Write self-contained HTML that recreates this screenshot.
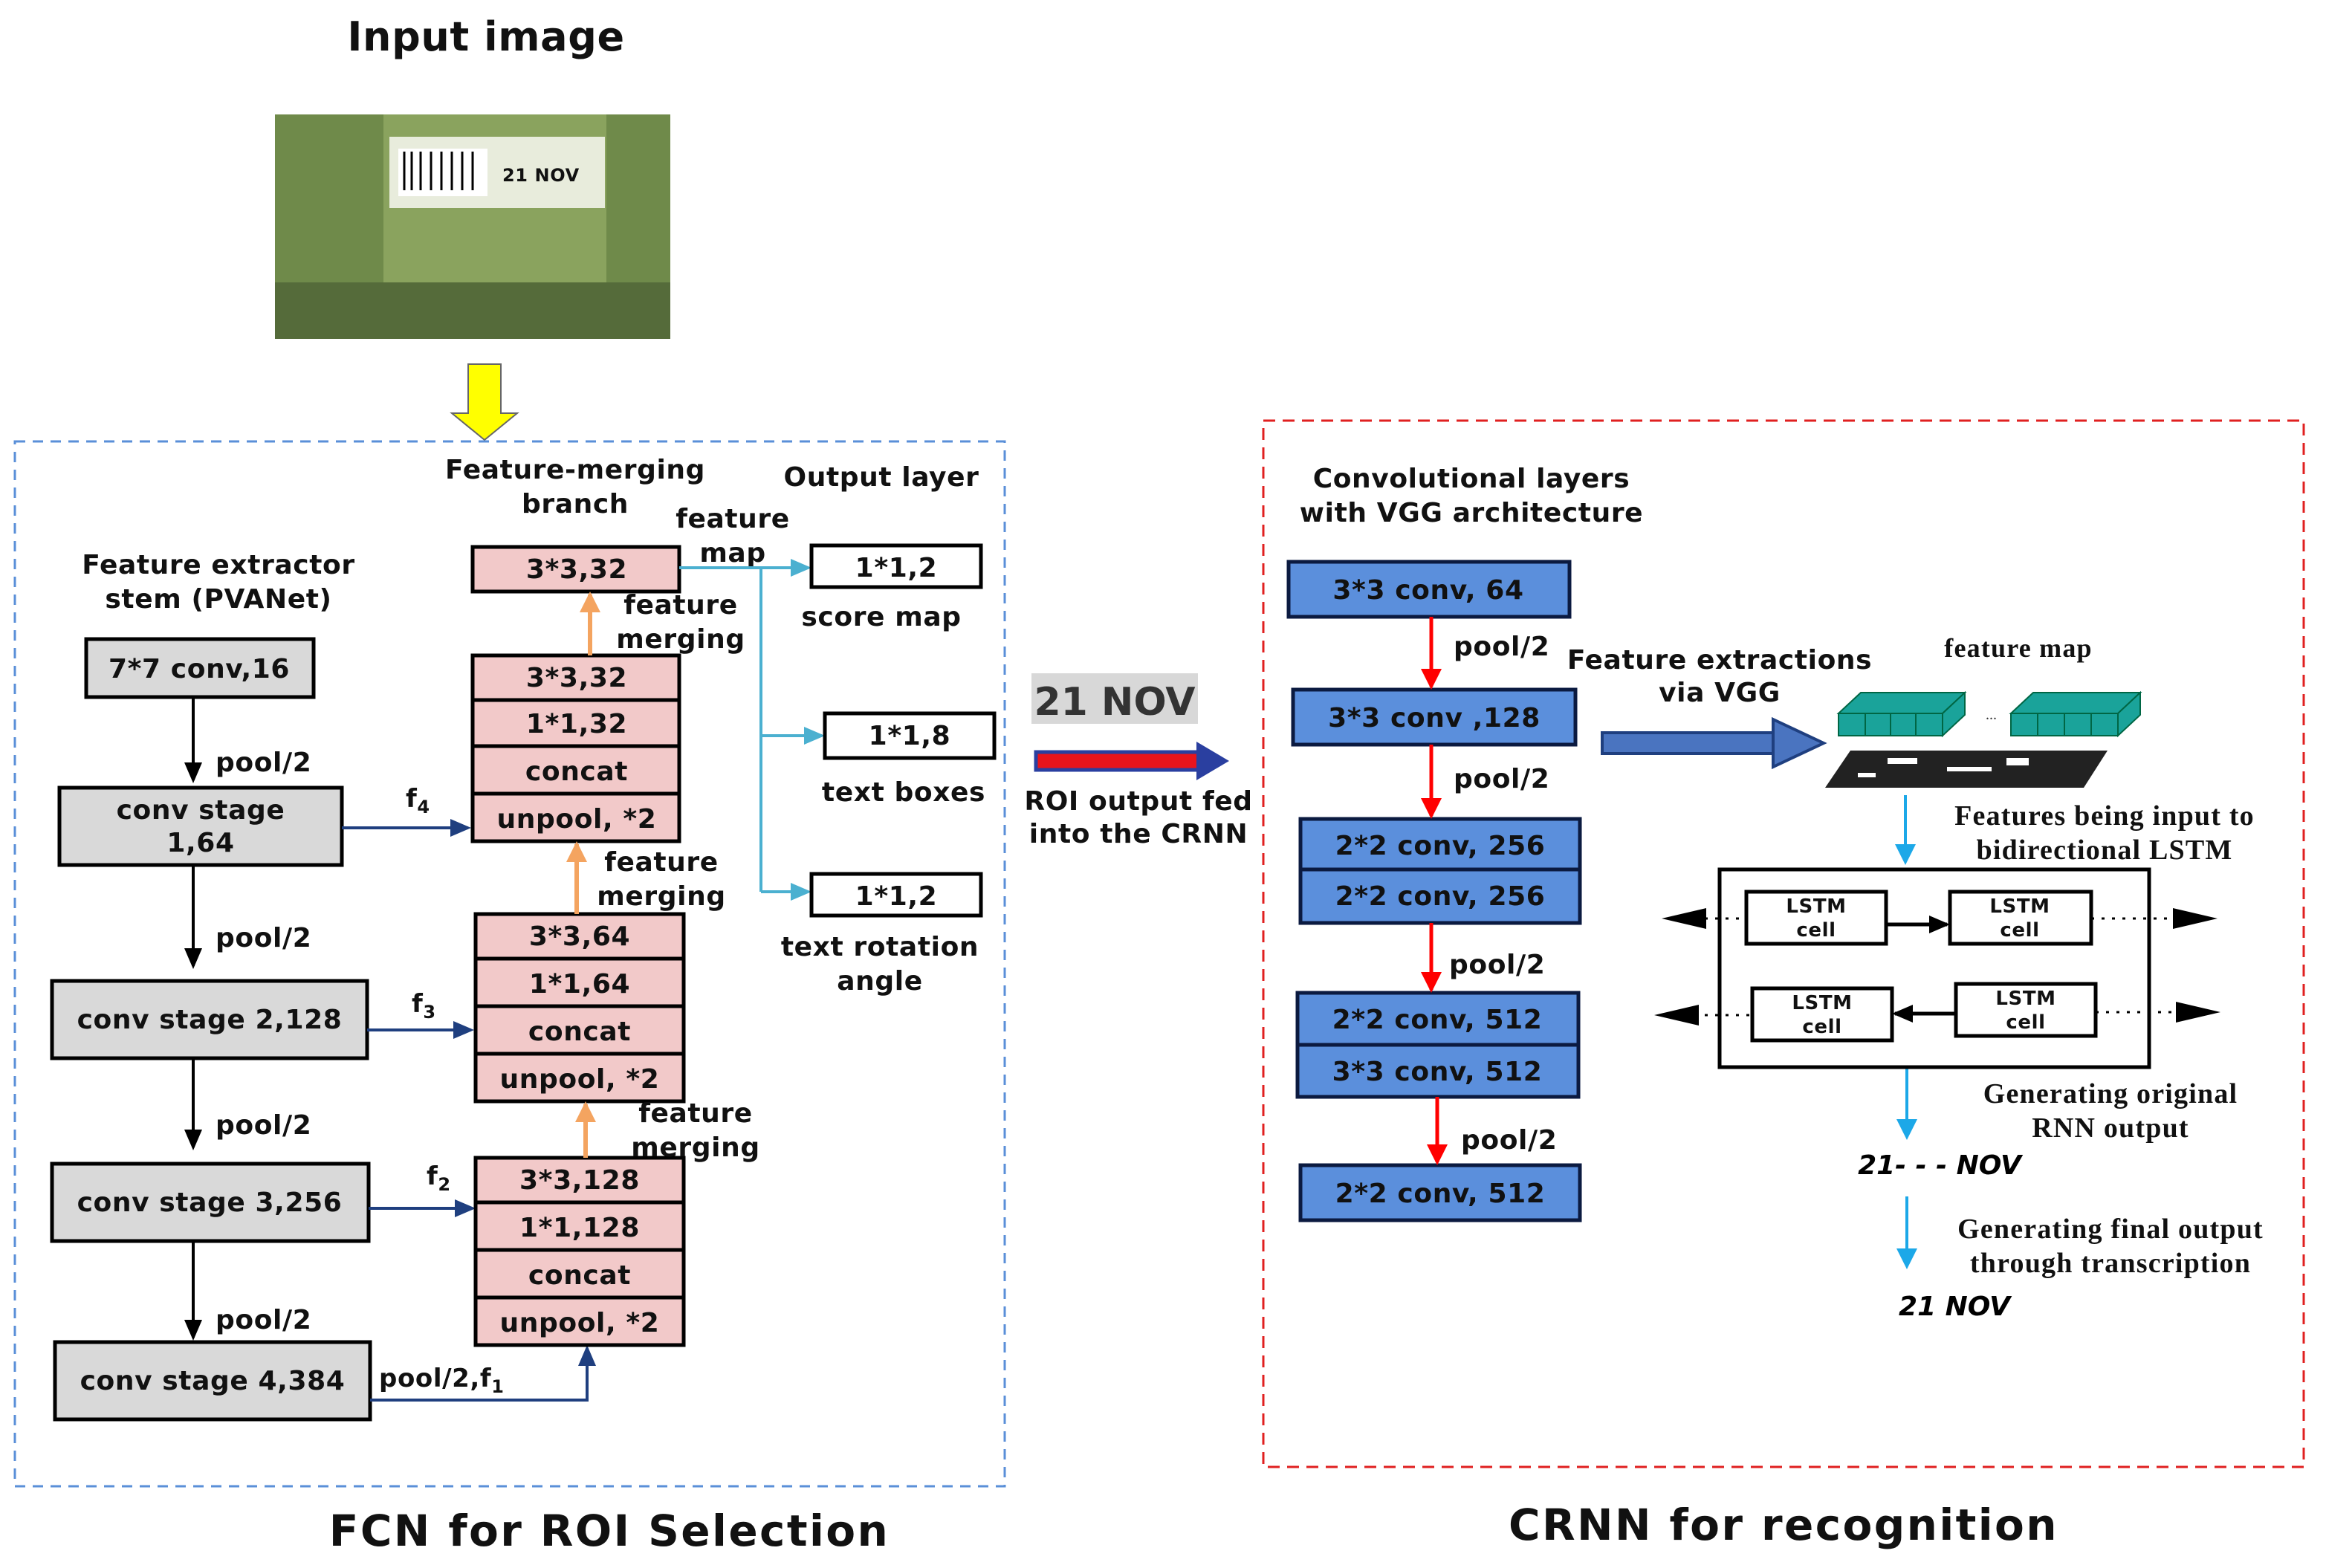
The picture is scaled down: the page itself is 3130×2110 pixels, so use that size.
<!DOCTYPE html>
<html><head><meta charset="utf-8"><style>
html,body{margin:0;padding:0;background:#fff;}
svg{display:block;}
.b{font-family:"DejaVu Sans","Liberation Sans",sans-serif;font-weight:bold;fill:#111;letter-spacing:0.3px;}
.s{font-family:"Liberation Serif","DejaVu Serif",serif;font-weight:bold;fill:#111;letter-spacing:0.6px;}
</style></head><body>
<svg width="3130" height="2110" viewBox="0 0 1565 1055" xmlns="http://www.w3.org/2000/svg">
<defs>
<marker id="ak" markerWidth="14" markerHeight="12" refX="12" refY="6" orient="auto" markerUnits="userSpaceOnUse"><path d="M0,0 L14,6 L0,12 z" fill="#000"/></marker>
<marker id="an" markerWidth="14" markerHeight="12" refX="12" refY="6" orient="auto" markerUnits="userSpaceOnUse"><path d="M0,0 L14,6 L0,12 z" fill="#1f3f7f"/></marker>
<marker id="ao" markerWidth="14" markerHeight="14" refX="12" refY="7" orient="auto" markerUnits="userSpaceOnUse"><path d="M0,0 L14,7 L0,14 z" fill="#f4a460"/></marker>
<marker id="ac" markerWidth="14" markerHeight="12" refX="12" refY="6" orient="auto" markerUnits="userSpaceOnUse"><path d="M0,0 L14,6 L0,12 z" fill="#4bb0d0"/></marker>
<marker id="ar" markerWidth="14" markerHeight="14" refX="12" refY="7" orient="auto" markerUnits="userSpaceOnUse"><path d="M0,0 L14,7 L0,14 z" fill="#f00"/></marker>
<marker id="ab" markerWidth="14" markerHeight="14" refX="12" refY="7" orient="auto" markerUnits="userSpaceOnUse"><path d="M0,0 L14,7 L0,14 z" fill="#1ca8e8"/></marker>
</defs>

<text class="b" x="327" y="34" font-size="27" text-anchor="middle">Input image</text>
<rect x="185" y="77" width="266" height="151" fill="#6f8a4a"/>
<rect x="258" y="77" width="150" height="120" fill="#8aa35e"/>
<rect x="262" y="92" width="145" height="48" fill="#e8ecdc"/>
<rect x="268" y="100" width="60" height="32" fill="#fff"/>
<g stroke="#000" stroke-width="1.5"><line x1="272" y1="102" x2="272" y2="128"/><line x1="277" y1="102" x2="277" y2="128"/><line x1="283" y1="102" x2="283" y2="128"/><line x1="290" y1="102" x2="290" y2="128"/><line x1="297" y1="102" x2="297" y2="128"/><line x1="304" y1="102" x2="304" y2="128"/><line x1="311" y1="102" x2="311" y2="128"/><line x1="318" y1="102" x2="318" y2="128"/></g>
<text class="b" x="338" y="122" font-size="12">21 NOV</text>
<rect x="185" y="190" width="266" height="38" fill="#556b3a"/>
<path d="M315,245 L337,245 L337,278 L348,278 L326,296 L304,278 L315,278 z" fill="#ffff00" stroke="#666" stroke-width="1"/>

<rect x="10" y="297" width="666" height="703" fill="none" stroke="#5a8fd8" stroke-width="1.5" stroke-dasharray="7,5"/>
<rect x="850" y="283" width="700" height="704" fill="none" stroke="#e02020" stroke-width="1.5" stroke-dasharray="8,5"/>
<text class="b" x="410" y="1040" font-size="29" text-anchor="middle" style="letter-spacing:1.2px">FCN for ROI Selection</text>
<text class="b" x="1200" y="1036" font-size="29" text-anchor="middle" style="letter-spacing:1.2px">CRNN for recognition</text>

<!-- left stem -->
<text class="b" x="147" y="386" font-size="18" text-anchor="middle">Feature extractor</text>
<text class="b" x="147" y="409" font-size="18" text-anchor="middle">stem (PVANet)</text>
<g fill="#d9d9d9" stroke="#000" stroke-width="2.5">
<rect x="58" y="430" width="153" height="39"/>
<rect x="40" y="530" width="190" height="52"/>
<rect x="35" y="660" width="212" height="52"/>
<rect x="35" y="783" width="213" height="52"/>
<rect x="37" y="903" width="212" height="52"/>
</g>
<text class="b" x="134" y="456" font-size="18" text-anchor="middle">7*7 conv,16</text>
<text class="b" x="135" y="551" font-size="18" text-anchor="middle">conv stage</text>
<text class="b" x="135" y="573" font-size="18" text-anchor="middle">1,64</text>
<text class="b" x="141" y="692" font-size="18" text-anchor="middle">conv stage 2,128</text>
<text class="b" x="141" y="815" font-size="18" text-anchor="middle">conv stage 3,256</text>
<text class="b" x="143" y="935" font-size="18" text-anchor="middle">conv stage 4,384</text>
<g stroke="#000" stroke-width="2" marker-end="url(#ak)">
<line x1="130" y1="469" x2="130" y2="525"/>
<line x1="130" y1="582" x2="130" y2="650"/>
<line x1="130" y1="712" x2="130" y2="772"/>
<line x1="130" y1="835" x2="130" y2="900"/>
</g>
<g class="b" font-size="18"><text x="145" y="519">pool/2</text><text x="145" y="637">pool/2</text><text x="145" y="763">pool/2</text><text x="145" y="894">pool/2</text></g>

<!-- f arrows -->
<g stroke="#1f3f7f" stroke-width="2" fill="none" marker-end="url(#an)">
<line x1="230" y1="557" x2="315" y2="557"/>
<line x1="247" y1="693" x2="317" y2="693"/>
<line x1="248" y1="813" x2="318" y2="813"/>
<polyline points="249,942 395,942 395,907"/>
</g>
<text class="b" x="273" y="543" font-size="17">f<tspan font-size="12" dy="4">4</tspan></text>
<text class="b" x="277" y="681" font-size="17">f<tspan font-size="12" dy="4">3</tspan></text>
<text class="b" x="287" y="797" font-size="17">f<tspan font-size="12" dy="4">2</tspan></text>
<text class="b" x="255" y="933" font-size="17">pool/2,f<tspan font-size="12" dy="4">1</tspan></text>

<!-- pink boxes -->
<g fill="#f2c9c9" stroke="#000" stroke-width="2.5">
<rect x="318" y="368" width="139" height="30"/>
<rect x="318" y="441" width="139" height="30"/><rect x="318" y="471" width="139" height="31"/><rect x="318" y="502" width="139" height="32"/><rect x="318" y="534" width="139" height="32"/>
<rect x="320" y="615" width="140" height="30"/><rect x="320" y="645" width="140" height="32"/><rect x="320" y="677" width="140" height="32"/><rect x="320" y="709" width="140" height="32"/>
<rect x="320" y="779" width="140" height="30"/><rect x="320" y="809" width="140" height="32"/><rect x="320" y="841" width="140" height="32"/><rect x="320" y="873" width="140" height="32"/>
</g>
<g class="b" font-size="18" text-anchor="middle">
<text x="388" y="389">3*3,32</text>
<text x="388" y="462">3*3,32</text><text x="388" y="493">1*1,32</text><text x="388" y="525">concat</text><text x="388" y="557">unpool, *2</text>
<text x="390" y="636">3*3,64</text><text x="390" y="668">1*1,64</text><text x="390" y="700">concat</text><text x="390" y="732">unpool, *2</text>
<text x="390" y="800">3*3,128</text><text x="390" y="832">1*1,128</text><text x="390" y="864">concat</text><text x="390" y="896">unpool, *2</text>
</g>
<g stroke="#f4a460" stroke-width="3" marker-end="url(#ao)">
<line x1="397" y1="441" x2="397" y2="400"/>
<line x1="388" y1="615" x2="388" y2="568"/>
<line x1="394" y1="779" x2="394" y2="743"/>
</g>
<g class="b" font-size="18" text-anchor="middle">
<text x="387" y="322">Feature-merging</text><text x="387" y="345">branch</text>
<text x="593" y="327">Output layer</text>
<text x="493" y="355">feature</text><text x="493" y="378">map</text>
<text x="458" y="413">feature</text><text x="458" y="436">merging</text>
<text x="445" y="586">feature</text><text x="445" y="609">merging</text>
<text x="468" y="755">feature</text><text x="468" y="778">merging</text>
<text x="593" y="421">score map</text>
<text x="608" y="539">text boxes</text>
<text x="592" y="643">text rotation</text><text x="592" y="666">angle</text>
</g>

<!-- output -->
<g stroke="#4bb0d0" stroke-width="2" fill="none">
<line x1="457" y1="382" x2="512" y2="382"/>
<line x1="512" y1="382" x2="512" y2="600"/>
<line x1="512" y1="382" x2="544" y2="382" marker-end="url(#ac)"/>
<line x1="512" y1="495" x2="553" y2="495" marker-end="url(#ac)"/>
<line x1="512" y1="600" x2="544" y2="600" marker-end="url(#ac)"/>
</g>
<g fill="#fff" stroke="#000" stroke-width="2.5">
<rect x="546" y="367" width="114" height="28"/>
<rect x="555" y="480" width="114" height="30"/>
<rect x="546" y="588" width="114" height="28"/>
</g>
<g class="b" font-size="18" text-anchor="middle">
<text x="603" y="388">1*1,2</text><text x="612" y="501">1*1,8</text><text x="603" y="609">1*1,2</text>
</g>

<!-- middle -->
<rect x="694" y="453" width="112" height="34" fill="#d8d8d8"/>
<text x="750" y="481" font-family="DejaVu Sans,sans-serif" font-weight="bold" font-size="26" fill="#333" text-anchor="middle">21 NOV</text>
<rect x="697" y="506" width="110" height="12" fill="#e8141c" stroke="#2a3fa0" stroke-width="2.5"/>
<path d="M805,499 L827,512 L805,525 z" fill="#2a3fa0"/>
<text class="b" x="766" y="545" font-size="18" text-anchor="middle">ROI output fed</text>
<text class="b" x="766" y="567" font-size="18" text-anchor="middle">into the CRNN</text>

<!-- right VGG -->
<text class="b" x="990" y="328" font-size="18" text-anchor="middle">Convolutional layers</text>
<text class="b" x="990" y="351" font-size="18" text-anchor="middle">with VGG architecture</text>
<g fill="#5b8fdc" stroke="#0b1a40" stroke-width="2.5">
<rect x="867" y="378" width="189" height="37"/>
<rect x="870" y="464" width="190" height="37"/>
<rect x="875" y="551" width="188" height="34"/><rect x="875" y="585" width="188" height="36"/>
<rect x="873" y="668" width="189" height="35"/><rect x="873" y="703" width="189" height="35"/>
<rect x="875" y="784" width="188" height="37"/>
</g>
<g class="b" font-size="18" text-anchor="middle">
<text x="961" y="403">3*3 conv, 64</text>
<text x="965" y="489">3*3 conv ,128</text>
<text x="969" y="575">2*2 conv, 256</text><text x="969" y="609">2*2 conv, 256</text>
<text x="967" y="692">2*2 conv, 512</text><text x="967" y="727">3*3 conv, 512</text>
<text x="969" y="809">2*2 conv, 512</text>
</g>
<g stroke="#f00" stroke-width="2.5" marker-end="url(#ar)">
<line x1="963" y1="415" x2="963" y2="462"/>
<line x1="963" y1="501" x2="963" y2="549"/>
<line x1="963" y1="621" x2="963" y2="666"/>
<line x1="967" y1="738" x2="967" y2="782"/>
</g>
<g class="b" font-size="18"><text x="978" y="441">pool/2</text><text x="978" y="530">pool/2</text><text x="975" y="655">pool/2</text><text x="983" y="773">pool/2</text></g>

<text class="b" x="1157" y="450" font-size="18" text-anchor="middle">Feature extractions</text>
<text class="b" x="1157" y="472" font-size="18" text-anchor="middle">via VGG</text>
<rect x="1078" y="493" width="118" height="14" fill="#4a74c0" stroke="#1f3f7f" stroke-width="2"/>
<path d="M1193,484 L1227,500 L1193,516 z" fill="#4a74c0" stroke="#1f3f7f" stroke-width="2"/>

<text class="s" x="1358" y="442" font-size="18" text-anchor="middle">feature map</text>
<g fill="#1aa39a" stroke="#064" stroke-width="1">
<path d="M1237,480 L1252,466 L1322,466 L1307,480 z"/><rect x="1237" y="480" width="70" height="15"/><path d="M1307,480 L1322,466 L1322,481 L1307,495 z"/>
<path d="M1353,480 L1368,466 L1440,466 L1425,480 z"/><rect x="1353" y="480" width="72" height="15"/><path d="M1425,480 L1440,466 L1440,481 L1425,495 z"/>
</g>
<g stroke="#064" stroke-width="1"><line x1="1255" y1="480" x2="1255" y2="495"/><line x1="1272" y1="480" x2="1272" y2="495"/><line x1="1289" y1="480" x2="1289" y2="495"/><line x1="1371" y1="480" x2="1371" y2="495"/><line x1="1389" y1="480" x2="1389" y2="495"/><line x1="1407" y1="480" x2="1407" y2="495"/></g>
<text x="1336" y="484" font-size="10" fill="#333">...</text>
<path d="M1245,505 L1418,505 L1402,530 L1228,530 z" fill="#222"/>
<g fill="#fff"><rect x="1270" y="510" width="20" height="4"/><rect x="1310" y="516" width="30" height="3"/><rect x="1350" y="510" width="15" height="5"/><rect x="1250" y="520" width="12" height="3"/></g>

<g stroke="#1ca8e8" stroke-width="2" marker-end="url(#ab)">
<line x1="1282" y1="535" x2="1282" y2="580"/>
<line x1="1283" y1="718" x2="1283" y2="765"/>
<line x1="1283" y1="805" x2="1283" y2="852"/>
</g>
<g class="s" font-size="19" text-anchor="middle">
<text x="1416" y="555">Features being input to</text><text x="1416" y="578">bidirectional LSTM</text>
<text x="1420" y="742">Generating original</text><text x="1420" y="765">RNN output</text>
<text x="1420" y="833">Generating final output</text><text x="1420" y="856">through transcription</text>
</g>
<text x="1305" y="790" font-family="DejaVu Sans,sans-serif" font-weight="bold" font-style="italic" font-size="18" text-anchor="middle">21- - - NOV</text>
<text x="1315" y="885" font-family="DejaVu Sans,sans-serif" font-weight="bold" font-style="italic" font-size="18" text-anchor="middle">21 NOV</text>

<rect x="1157" y="585" width="289" height="133" fill="#fff" stroke="#000" stroke-width="2.5"/>
<g fill="#fff" stroke="#000" stroke-width="2.5">
<rect x="1175" y="600" width="94" height="35"/><rect x="1312" y="600" width="95" height="35"/>
<rect x="1179" y="665" width="94" height="35"/><rect x="1316" y="662" width="94" height="35"/>
</g>
<g class="b" font-size="13" text-anchor="middle">
<text x="1222" y="614">LSTM</text><text x="1222" y="630">cell</text>
<text x="1359" y="614">LSTM</text><text x="1359" y="630">cell</text>
<text x="1226" y="679">LSTM</text><text x="1226" y="695">cell</text>
<text x="1363" y="676">LSTM</text><text x="1363" y="692">cell</text>
</g>
<g stroke="#000" stroke-width="2.5" marker-end="url(#ak)">
<line x1="1269" y1="622" x2="1310" y2="622"/>
<line x1="1316" y1="682" x2="1275" y2="682"/>
</g>
<g stroke="#000" stroke-width="1.5" stroke-dasharray="2,5">
<line x1="1140" y1="618" x2="1175" y2="618"/><line x1="1407" y1="618" x2="1465" y2="618"/>
<line x1="1140" y1="683" x2="1179" y2="683"/><line x1="1410" y1="681" x2="1465" y2="681"/>
</g>
<g fill="#000">
<path d="M1118,618 L1148,611 L1148,625 z"/><path d="M1492,618 L1462,611 L1462,625 z"/>
<path d="M1113,683 L1143,676 L1143,690 z"/><path d="M1494,681 L1464,674 L1464,688 z"/>
</g>
</svg>
</body></html>
